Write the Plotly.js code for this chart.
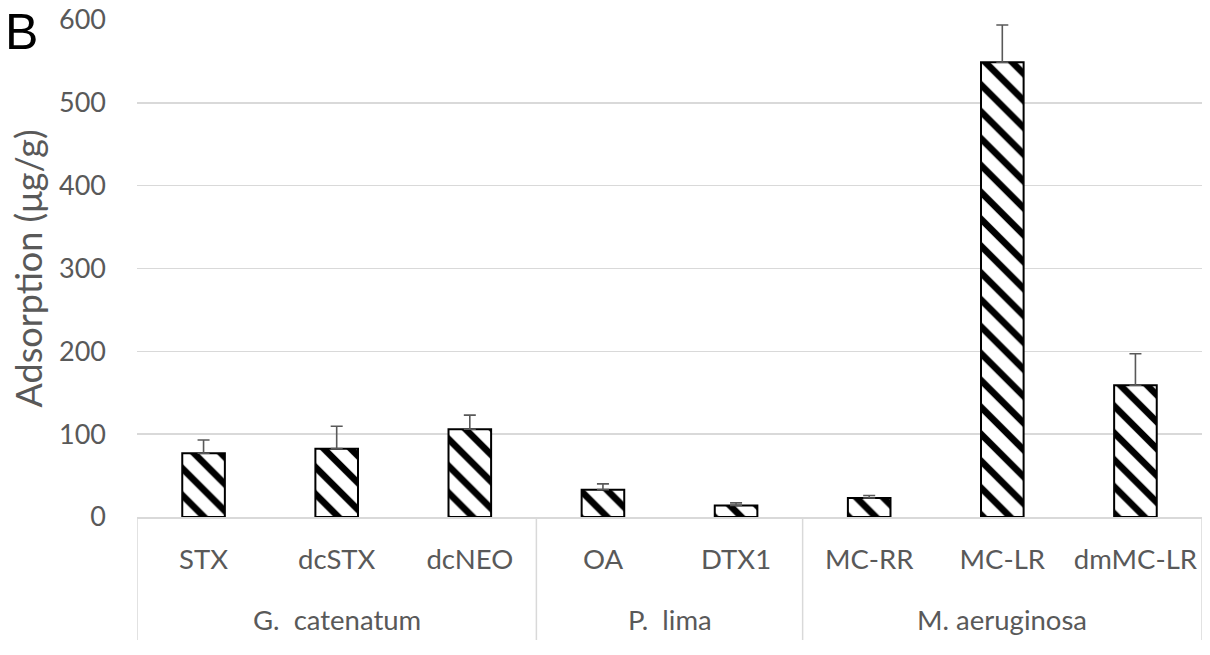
<!DOCTYPE html>
<html>
<head>
<meta charset="utf-8">
<script src="https://cdn.plot.ly/plotly-3.0.1.min.js"></script>
<style>html,body{margin:0;padding:0;background:#fff;}#chart{width:1210px;height:655px;}</style>
</head>
<body>
<div id="chart"></div>
<script>
const groups = ["G.\u00a0 catenatum","G.\u00a0 catenatum","G.\u00a0 catenatum","P.\u00a0 lima","P.\u00a0 lima","M. aeruginosa","M. aeruginosa","M. aeruginosa"];
const toxins = ["STX","dcSTX","dcNEO","OA","DTX1","MC-RR","MC-LR","dmMC-LR"];
const adsorption = [77, 82.5, 106, 33, 14, 23, 549, 159];
const errorUp = [16, 27, 17, 7, 3, 3, 45, 38];
const errorDown = [0, 0, 0, 0, 0, 0, 0, 0];
const yTicks = [0, 100, 200, 300, 400, 500, 600];

const font = "Lato, 'Open Sans', sans-serif";
const grey = "#595959";
const lineGrey = "#d9d9d9";

// group spans derived from the groups array (category indices)
const spans = [];
groups.forEach((g, i) => {
  const last = spans[spans.length - 1];
  if (last && last.name === g) last.end = i; else spans.push({name: g, start: i, end: i});
});

const dividerDepth = -0.2475;   // how far the separators reach below the axis (paper units)
const groupLabelY = -0.207;

const shapes = [];
const boundaries = [spans[0].start - 0.5].concat(spans.map(s => s.end + 0.5));
boundaries.forEach(b => shapes.push({
  type: "line", xref: "x", yref: "paper", x0: b, x1: b, y0: 0, y1: dividerDepth,
  line: {color: lineGrey, width: 1.5}
}));

const annotations = spans.map(s => ({
  text: s.name, xref: "x", yref: "paper", x: (s.start + s.end) / 2, y: groupLabelY,
  xanchor: "center", yanchor: "middle", showarrow: false,
  font: {family: font, size: 27.5, color: grey}
}));
annotations.push({
  text: "B", xref: "paper", yref: "paper", x: -0.126, y: 1.036,
  xanchor: "left", yanchor: "top", showarrow: false,
  font: {family: "'Liberation Sans', Arial, sans-serif", size: 50, color: "black"}
});

const trace = {
  type: "bar",
  x: toxins,
  y: adsorption,
  marker: {
    color: "white",
    line: {color: "black", width: 2},
    pattern: {shape: "\\", fgcolor: "black", bgcolor: "white", size: 19, solidity: 0.35}
  },
  error_y: {
    type: "data", symmetric: false, array: errorUp, arrayminus: errorDown,
    color: grey, thickness: 1.6, width: 6
  },
  hoverinfo: "none"
};

const layout = {
  width: 1210, height: 655,
  margin: {l: 137, r: 8, t: 20, b: 138},
  paper_bgcolor: "white", plot_bgcolor: "white",
  showlegend: false,
  bargap: 0.68,
  font: {family: font, color: grey, size: 25},
  xaxis: {
    type: "category",
    range: [-0.5, toxins.length - 0.5],
    showline: true, linecolor: lineGrey, linewidth: 1.5,
    tickfont: {family: font, size: 27.5, color: grey},
    ticklabelstandoff: 17,
    showgrid: false, ticks: ""
  },
  yaxis: {
    range: [0, 600], tickvals: yTicks, ticktext: yTicks.map(String),
    showgrid: true, gridcolor: lineGrey, gridwidth: 1.5,
    zeroline: false, showline: false, ticks: "",
    ticklabelstandoff: 30,
    tickfont: {family: font, size: 27, color: grey},
    title: {text: "Adsorption (μg/g)", font: {family: font, size: 36, color: grey}, standoff: 5}
  },
  shapes: shapes,
  annotations: annotations
};

Plotly.newPlot("chart", [trace], layout, {displayModeBar: false, staticPlot: true});
</script>
</body>
</html>
